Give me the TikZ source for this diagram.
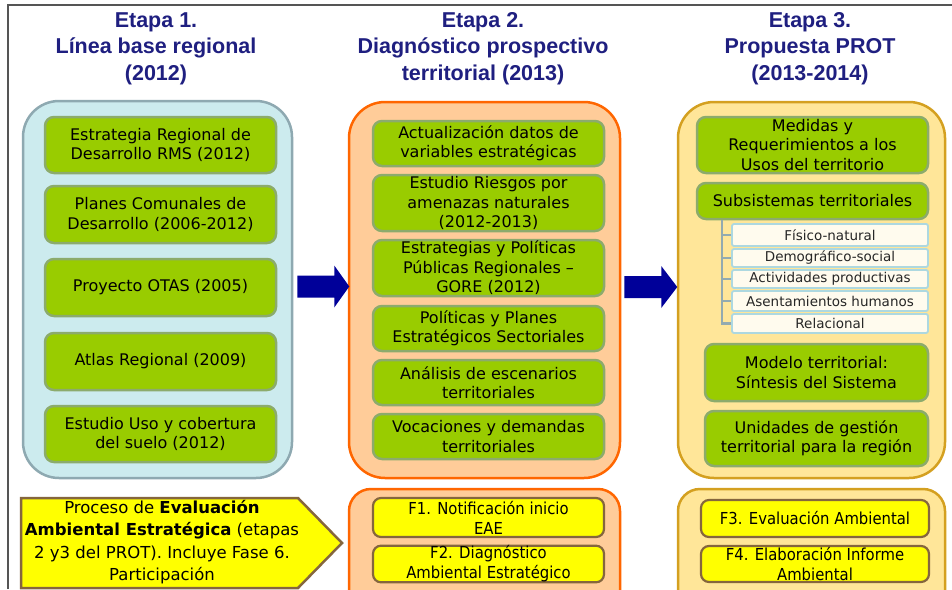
\documentclass[tikz,border=0pt]{standalone}
\usepackage{fontspec}
\setmainfont{DejaVu Sans}
\newfontfamily\titlefont{Liberation Sans}
\newfontfamily\condfont[FakeStretch=0.9]{DejaVu Sans}
\definecolor{navy}{HTML}{1F1F80}
\definecolor{arrowblue}{HTML}{000099}
\definecolor{bluefill}{HTML}{CCEBEE}
\definecolor{blueline}{HTML}{8EA9B1}
\definecolor{peach}{HTML}{FFCC99}
\definecolor{orangeline}{HTML}{FF6600}
\definecolor{lightyellow}{HTML}{FFE699}
\definecolor{goldline}{HTML}{D4A020}
\definecolor{green}{HTML}{99CC00}
\definecolor{greenline}{HTML}{8CAB6C}
\definecolor{cream}{HTML}{FFFBEE}
\definecolor{lightblueline}{HTML}{ADD8E0}
\definecolor{yellowfill}{HTML}{FFFF00}
\definecolor{brown}{HTML}{85663D}
\definecolor{treegray}{HTML}{93AAB0}
\definecolor{framegray}{HTML}{555555}
\tikzset{
  title/.style={font=\titlefont\bfseries\fontsize{21.5}{26.5}\selectfont, text=navy, align=center, inner sep=0pt},
  outerbox/.style={line width=2.5pt, rounded corners=36pt},
  gbox/.style={draw=greenline, fill=green, line width=2.5pt, rounded corners=9pt, align=center, inner sep=0pt, font=\fontsize{16}{19.5}\selectfont},
  subbox/.style={draw=lightblueline, fill=cream, line width=1.8pt, rounded corners=2pt, align=center, inner sep=0pt, font=\fontsize{13.5}{16}\selectfont, text=black!85},
  fbox/.style={draw=brown, fill=yellowfill, line width=2.2pt, rounded corners=8pt, align=center, inner sep=0pt, font=\condfont\fontsize{16.5}{20}\selectfont},
  tree/.style={draw=treegray, line width=2.8pt},
}
% \bx{style}{x0}{y0}{x1}{y1}{name}{text}
\newcommand\bx[7]{\node[#1, minimum width={(#4-#2)*1pt}, minimum height={(#5-#3)*1pt}] (#6) at ({(#2+#4)/2},{(#3+#5)/2}) {#7};}
\begin{document}
\begin{tikzpicture}[x=1pt,y=-1pt]
\useasboundingbox (0,0) rectangle (952,589);
\clip (0,0) rectangle (952,589);
\fill[white] (0,0) rectangle (952,589);
% frame
\draw[framegray, line width=2pt] (8,589) -- (8,5) -- (952,5);
% titles
\node[title] (t1) at (156,48.5) {Etapa 1.\\Línea base regional\\(2012)};
\node[title] (t2) at (483,48.5) {Etapa 2.\\Diagnóstico prospectivo\\territorial (2013)};
\node[title] (t3) at (810,48.5) {Etapa 3.\\Propuesta PROT\\(2013-2014)};
% outer boxes
\bx{outerbox, draw=blueline, fill=bluefill}{23}{101}{292}{478}{c1}{}
\bx{outerbox, draw=orangeline, fill=peach}{349}{102}{620}{478}{c2}{}
\bx{outerbox, draw=goldline, fill=lightyellow}{678}{102}{945}{478}{c3}{}
% column 1
\bx{gbox}{45}{117}{276}{173}{a1}{Estrategia Regional de\\Desarrollo RMS (2012)}
\bx{gbox}{45}{186}{276}{243}{a2}{Planes Comunales de\\Desarrollo (2006-2012)}
\bx{gbox}{45}{259}{276}{316}{a3}{Proyecto OTAS (2005)}
\bx{gbox}{45}{333}{276}{390}{a4}{Atlas Regional (2009)}
\bx{gbox}{45}{406}{276}{462}{a5}{Estudio Uso y cobertura\\del suelo (2012)}
% column 2
\bx{gbox}{373}{121}{604}{166}{b1}{Actualización datos de\\variables estratégicas}
\bx{gbox}{373}{175}{604}{231}{b2}{Estudio Riesgos por\\amenazas naturales\\(2012-2013)}
\bx{gbox}{373}{240}{604}{296}{b3}{Estrategias y Políticas\\Públicas Regionales –\\GORE (2012)}
\bx{gbox}{373}{306}{604}{351}{b4}{Políticas y Planes\\Estratégicos Sectoriales}
\bx{gbox}{373}{360}{604}{405}{b5}{Análisis de escenarios\\territoriales}
\bx{gbox}{373}{414}{604}{459}{b6}{Vocaciones y demandas\\territoriales}
% column 3
\bx{gbox}{697}{117}{928}{173}{d1}{Medidas y\\Requerimientos a los\\Usos del territorio}
\bx{gbox}{697}{183}{928}{219}{d2}{Subsistemas territoriales}
\bx{subbox}{732}{224}{928}{246}{s1}{Físico-natural}
\bx{subbox}{732}{249}{928}{267}{s2}{Demográfico-social}
\bx{subbox}{732}{270}{928}{288}{s3}{Actividades productivas}
\bx{subbox}{732}{291}{928}{311}{s4}{Asentamientos humanos}
\bx{subbox}{732}{314}{928}{333}{s5}{Relacional}
\coordinate (tr) at (722,220);
\draw[tree] (tr) |- (s5.west);
\foreach \s in {s1,s2,s3,s4} {\draw[tree] (tr |- \s.west) -- (\s.west);}
\bx{gbox}{705}{344}{928}{401}{d3}{Modelo territorial:\\Síntesis del Sistema}
\bx{gbox}{705}{411}{928}{466}{d4}{Unidades de gestión\\territorial para la región}
% block arrows
\fill[arrowblue, shift={(c1.east)}] (4,-14) -- (41,-14) -- (41,-24) -- (56,-3) -- (41,18) -- (41,8) -- (4,8) -- cycle;
\fill[arrowblue, shift={(c2.east)}] (3,-14) -- (40,-14) -- (40,-24) -- (56,-3) -- (40,18) -- (40,8) -- (3,8) -- cycle;
% bottom row
\draw[brown, fill=yellowfill, line width=2.5pt] (21,498) -- (298,498) -- (342,543) -- (298,588) -- (21,588) -- cycle;
\node[align=center, inner sep=0pt, font=\fontsize{16.5}{22.5}\selectfont] (p) at (162,542) {Proceso de \textbf{Evaluación}\\\textbf{Ambiental Estratégica} (etapas\\2 y3 del PROT). Incluye Fase 6.\\Participación};
\bx{outerbox, draw=orangeline, fill=peach, rounded corners=22pt}{349}{489}{620}{640}{e2}{}
\bx{outerbox, draw=goldline, fill=lightyellow, rounded corners=22pt}{678}{489}{945}{640}{e3}{}
\bx{fbox}{373}{498}{604}{537}{f1}{F1. Notificación inicio\\EAE}
\bx{fbox}{373}{546}{604}{582}{f2}{F2. Diagnóstico\\Ambiental Estratégico}
\bx{fbox}{701}{500}{929}{537}{f3}{F3. Evaluación Ambiental}
\bx{fbox}{701}{546}{929}{582}{f4}{F4. Elaboración Informe\\Ambiental}
\end{tikzpicture}
\end{document}
